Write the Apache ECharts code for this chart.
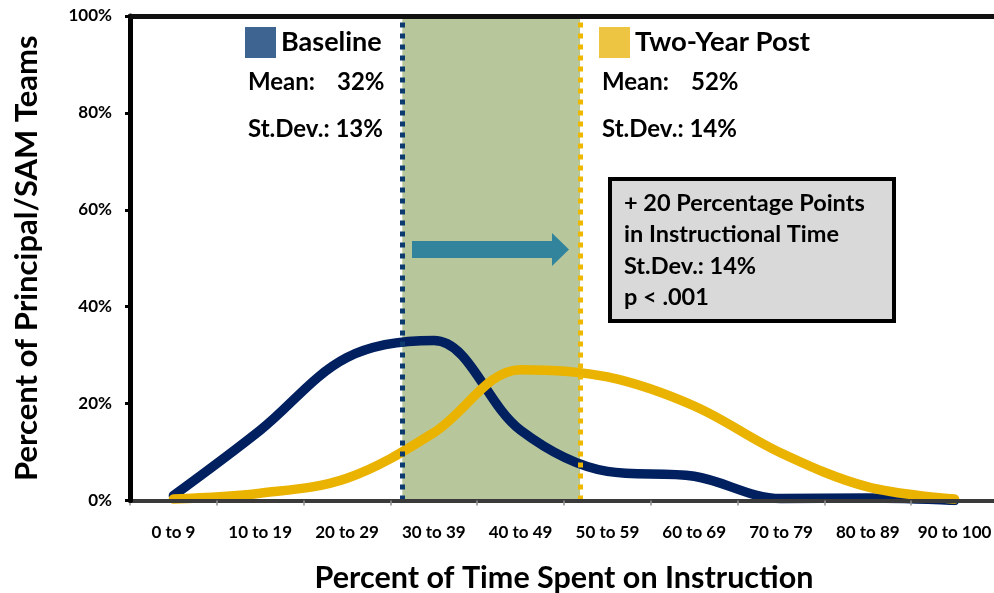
<!DOCTYPE html>
<html>
<head>
<meta charset="utf-8">
<script src="https://cdn.jsdelivr.net/npm/echarts@6/dist/echarts.min.js"></script>
<style>
  html, body { margin: 0; padding: 0; background: #ffffff; }
  #chart { width: 994px; height: 593px; }
</style>
</head>
<body>
<div id="chart"></div>
<script>
// ---------- data ----------
const categories = ['0 to 9', '10 to 19', '20 to 29', '30 to 39', '40 to 49', '50 to 59', '60 to 69', '70 to 79', '80 to 89', '90 to 100'];
const seriesNames = ['Baseline', 'Two-Year Post'];
const baseline = [1, 14.5, 29.5, 33, 14.5, 6, 5, 0.4, 0.5, 0];
const twoYearPost = [0.3, 1.5, 4.6, 14, 27, 25.5, 19.5, 9.8, 2.8, 0.3];
const means = [32, 52];
const stdDevs = [13, 14];
const changeLines = ['+ 20 Percentage Points', 'in Instructional Time', 'St.Dev.: 14%', 'p < .001'];
const yAxisTitle = 'Percent of Principal/SAM Teams';
const xAxisTitle = 'Percent of Time Spent on Instruction';

// ---------- styles ----------
const FONT = 'Lato';
const lineColors = ['#002060', '#E9B300'];
const legendColors = ['#3E6591', '#EEC443'];
const meanLineColors = ['#0D3A6E', '#EEB700'];

const chart = echarts.init(document.getElementById('chart'), null, { renderer: 'canvas' });

const statText = (x, i) => ([
  { type: 'text', left: x, top: 70, style: { text: 'Mean:', font: 'bold 24px ' + FONT, fill: '#000' } },
  { type: 'text', left: x + 89, top: 70, style: { text: means[i] + '%', font: 'bold 24px ' + FONT, fill: '#000' } },
  { type: 'text', left: x, top: 117, style: { text: 'St.Dev.: ' + stdDevs[i] + '%', font: 'bold 24px ' + FONT, fill: '#000' } }
]);

const option = {
  backgroundColor: '#ffffff',
  animation: false,
  textStyle: { fontFamily: FONT },
  grid: [
    { left: 130, top: 16, width: 868, height: 484.5, containLabel: false, outerBoundsMode: 'none' },
    { left: 118, top: 16, width: 888.5, height: 484.5, containLabel: false, outerBoundsMode: 'none' }
  ],
  legend: [
    {
      data: [{ name: seriesNames[0], icon: 'rect', itemStyle: { color: legendColors[0], borderWidth: 0 } }],
      left: 245, top: 27, padding: 0, itemWidth: 31, itemHeight: 31,
      textStyle: { fontFamily: FONT, fontWeight: 'bold', fontSize: 27, color: '#000' },
      selectedMode: false
    },
    {
      data: [{ name: seriesNames[1], icon: 'rect', itemStyle: { color: legendColors[1], borderWidth: 0 } }],
      left: 599, top: 27, padding: 0, itemWidth: 31, itemHeight: 31,
      textStyle: { fontFamily: FONT, fontWeight: 'bold', fontSize: 27.5, color: '#000' },
      selectedMode: false
    }
  ],
  xAxis: [
    {
      type: 'category', gridIndex: 0, data: categories, boundaryGap: true,
      axisLine: { show: true, lineStyle: { color: '#3a3a3a', width: 4 } },
      axisTick: { show: true, length: 5, lineStyle: { color: '#909090', width: 1.5 } },
      axisLabel: { interval: 0, color: '#000', fontFamily: FONT, fontWeight: 'bold', fontSize: 17, margin: 24 },
      name: xAxisTitle, nameLocation: 'middle', nameGap: 62,
      nameTextStyle: { color: '#000', fontFamily: FONT, fontWeight: 'bold', fontSize: 30.5 },
      z: 5
    },
    {
      type: 'category', gridIndex: 0, data: categories, position: 'top',
      axisLine: { show: true, lineStyle: { color: '#111', width: 5 } },
      axisTick: { show: false }, axisLabel: { show: false }, splitLine: { show: false },
      z: 6
    },
    {
      type: 'value', gridIndex: 1, min: 0, max: 100, show: false
    }
  ],
  yAxis: [
    {
      type: 'value', gridIndex: 0, min: 0, max: 100, interval: 20,
      axisLine: { show: true, lineStyle: { color: '#000', width: 5 } },
      axisTick: { show: true, inside: false, length: 5, lineStyle: { color: '#000', width: 3 } },
      axisLabel: { formatter: '{value}%', color: '#000', fontFamily: FONT, fontWeight: 'bold', fontSize: 17, margin: 18 },
      splitLine: { show: false },
      name: yAxisTitle, nameLocation: 'middle', nameGap: 88, nameRotate: 90,
      nameTextStyle: { color: '#000', fontFamily: FONT, fontWeight: 'bold', fontSize: 31 },
      z: 6
    },
    { type: 'value', gridIndex: 1, min: 0, max: 100, show: false }
  ],
  series: [
    {
      name: 'means', type: 'line', xAxisIndex: 2, yAxisIndex: 1, data: [], z: 1,
      silent: true,
      markArea: {
        silent: true,
        itemStyle: { color: '#B7C79B' },
        data: [[{ xAxis: means[0] }, { xAxis: means[1] }]]
      },
      markLine: {
        silent: true, symbol: ['none', 'none'], label: { show: false },
        data: [
          { xAxis: means[0], lineStyle: { color: meanLineColors[0], width: 5, type: [5, 6], cap: 'butt' } },
          { xAxis: means[1], lineStyle: { color: meanLineColors[1], width: 5, type: [5, 6], cap: 'butt' } }
        ]
      }
    },
    {
      name: seriesNames[0], type: 'line', xAxisIndex: 0, yAxisIndex: 0, data: baseline,
      smooth: 0.35, showSymbol: false, symbol: 'none', z: 3,
      lineStyle: { color: lineColors[0], width: 9.5, cap: 'round', join: 'round' },
      itemStyle: { color: legendColors[0] }
    },
    {
      name: seriesNames[1], type: 'line', xAxisIndex: 0, yAxisIndex: 0, data: twoYearPost,
      smooth: 0.35, showSymbol: false, symbol: 'none', z: 4,
      lineStyle: { color: lineColors[1], width: 9.5, cap: 'round', join: 'round' },
      itemStyle: { color: legendColors[1] }
    }
  ],
  graphic: [
    ...statText(248, 0),
    ...statText(602, 1),
    {
      type: 'polygon', z: 10,
      shape: { points: [[412, 241], [552, 241], [552, 233], [569, 249.5], [552, 266], [552, 258], [412, 258]] },
      style: { fill: '#31849B' }
    },
    {
      type: 'rect', z: 10,
      shape: { x: 610, y: 179, width: 284, height: 142 },
      style: { fill: '#D9D9D9', stroke: '#000', lineWidth: 4 }
    },
    ...changeLines.map((t, i) => ({
      type: 'text', z: 11, left: 624, top: 191 + i * 31.5,
      style: { text: t, font: 'bold 23.5px ' + FONT, fill: '#000' }
    }))
  ]
};

chart.setOption(option);
</script>
</body>
</html>
